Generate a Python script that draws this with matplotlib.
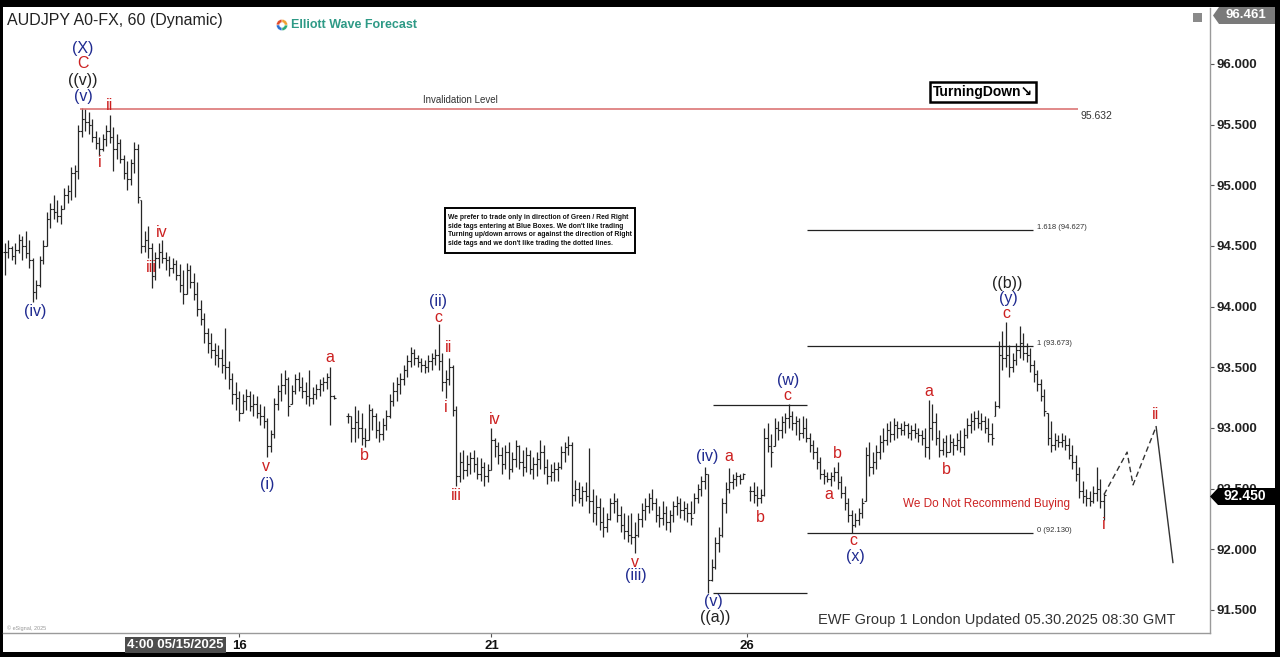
import numpy as np
import matplotlib
matplotlib.use('Agg')
import matplotlib.pyplot as plt
from matplotlib.patches import Rectangle, Polygon

plt.rcParams['font.family'] = ['Liberation Sans', 'DejaVu Sans']
nan = np.nan

# ---------------- data (hourly OHLC bars, index = bar number) ----------------
highs = [
    94.52, 94.55, 94.50, 94.52, 94.60, 94.58, 94.62, 94.55, 94.40, 94.22,
    94.42, 94.55, 94.78, 94.85, 94.92, 94.88, 94.84, 94.98, 95.00, 95.15,
    95.17, 95.50, 95.64, 95.63, 95.60, 95.55, 95.45, 95.40, 95.42, 95.50,
    95.58, 95.48, 95.42, 95.38, 95.25, 95.20, 95.22, 95.36, 95.34, 94.88,
    94.62, 94.66, 94.52, 94.45, 94.52, 94.55, 94.45, 94.42, 94.40, 94.38,
    94.35, 94.30, 94.36, 94.34, 94.28, 94.20, 94.05, 93.95, 93.82, 93.78,
    93.70, 93.68, 93.65, 93.82, 93.55, 93.45, 93.38, 93.30, 93.28, 93.32,
    93.30, 93.28, 93.26, 93.20, 93.18, 93.08, 92.98, 93.25, 93.35, 93.45,
    93.48, 93.42, 93.35, 93.44, 93.46, 93.42, 93.38, 93.48, 93.34, 93.36,
    93.40, 93.42, 93.45, 93.50, 93.27, nan, nan, nan, 93.12, 93.10,
    93.18, 93.15, 93.12, 93.00, 93.20, 93.16, 93.12, 93.06, 93.08, 93.15,
    93.28, 93.38, 93.42, 93.45, 93.52, 93.60, 93.67, 93.65, 93.60, 93.58,
    93.56, 93.60, 93.62, 93.65, 93.86, 93.62, 93.48, 93.58, 93.52, 93.18,
    92.80, 92.82, 92.78, 92.80, 92.82, 92.76, 92.75, 92.72, 92.70, 93.00,
    92.92, 92.88, 92.84, 92.86, 92.88, 92.80, 92.90, 92.86, 92.82, 92.84,
    92.82, 92.76, 92.80, 92.90, 92.86, 92.74, 92.70, 92.72, 92.72, 92.85,
    92.88, 92.93, 92.88, 92.57, 92.55, 92.52, 92.55, 92.83, 92.50, 92.45,
    92.42, 92.35, 92.30, 92.42, 92.46, 92.42, 92.36, 92.30, 92.28, 92.30,
    92.22, 92.30, 92.38, 92.42, 92.46, 92.50, 92.42, 92.36, 92.40, 92.36,
    92.32, 92.40, 92.44, 92.42, 92.40, 92.38, 92.40, 92.46, 92.54, 92.60,
    92.68, 92.62, 91.92, 92.10, 92.18, 92.42, 92.55, 92.67, 92.62, 92.64,
    92.62, 92.63, nan, 92.52, 92.55, 92.52, 92.50, 93.00, 93.04, 92.95,
    93.08, 93.06, 93.10, 93.12, 93.20, 93.14, 93.10, 93.08, 93.10, 93.08,
    92.96, 92.90, 92.84, 92.76, 92.66, 92.64, 92.64, 92.68, 92.72, 92.60,
    92.52, 92.42, 92.32, 92.30, 92.34, 92.42, 92.84, 92.88, 92.80, 92.86,
    92.94, 93.00, 93.04, 93.06, 93.08, 93.06, 93.04, 93.06, 93.04, 93.02,
    93.04, 93.00, 92.98, 93.00, 93.23, 93.20, 93.12, 92.98, 92.92, 92.94,
    92.95, 92.92, 92.96, 92.98, 93.00, 93.08, 93.12, 93.14, 93.15, 93.12,
    93.10, 93.08, 93.04, 93.22, 93.72, 93.80, 93.87, 93.68, 93.62, 93.70,
    93.84, 93.78, 93.70, 93.66, 93.56, 93.48, 93.40, 93.32, 93.12, 93.06,
    92.96, 92.94, 92.96, 92.94, 92.92, 92.86, 92.78, 92.68, 92.56, 92.50,
    92.48, 92.52, 92.68, 92.58, 92.46,
]
lows = [
    94.26, 94.40, 94.38, 94.35, 94.44, 94.38, 94.40, 94.32, 94.04, 94.06,
    94.16, 94.35, 94.50, 94.65, 94.72, 94.70, 94.68, 94.80, 94.85, 94.88,
    94.90, 95.05, 95.40, 95.45, 95.42, 95.36, 95.30, 95.24, 95.28, 95.32,
    95.35, 95.12, 95.22, 95.18, 95.05, 94.96, 95.00, 95.10, 94.85, 94.44,
    94.45, 94.40, 94.15, 94.22, 94.32, 94.36, 94.30, 94.25, 94.28, 94.22,
    94.12, 94.02, 94.10, 94.15, 94.05, 93.92, 93.85, 93.70, 93.62, 93.58,
    93.52, 93.50, 93.45, 93.40, 93.32, 93.20, 93.15, 93.06, 93.12, 93.15,
    93.14, 93.10, 93.08, 93.02, 93.00, 92.76, 92.80, 92.92, 93.15, 93.22,
    93.28, 93.10, 93.20, 93.28, 93.30, 93.25, 93.20, 93.18, 93.20, 93.24,
    93.26, 93.30, 93.32, 93.02, 93.24, nan, nan, nan, 93.04, 92.88,
    92.88, 92.92, 92.86, 92.84, 92.90, 92.98, 92.92, 92.88, 92.90, 92.98,
    93.08, 93.18, 93.22, 93.28, 93.35, 93.42, 93.50, 93.52, 93.50, 93.46,
    93.45, 93.46, 93.48, 93.52, 93.48, 93.30, 93.25, 93.35, 93.10, 92.52,
    92.55, 92.58, 92.60, 92.62, 92.64, 92.58, 92.56, 92.52, 92.55, 92.65,
    92.76, 92.70, 92.62, 92.66, 92.58, 92.64, 92.68, 92.66, 92.60, 92.64,
    92.62, 92.58, 92.60, 92.66, 92.62, 92.54, 92.56, 92.56, 92.56, 92.66,
    92.72, 92.78, 92.36, 92.40, 92.38, 92.36, 92.40, 92.30, 92.22, 92.20,
    92.16, 92.10, 92.14, 92.24, 92.30, 92.22, 92.14, 92.08, 92.06, 92.04,
    91.97, 92.10, 92.18, 92.24, 92.30, 92.32, 92.22, 92.18, 92.20, 92.16,
    92.14, 92.22, 92.28, 92.26, 92.24, 92.22, 92.20, 92.30, 92.38, 92.44,
    92.50, 91.64, 91.74, 91.84, 91.98, 92.10, 92.30, 92.46, 92.50, 92.52,
    92.54, 92.58, nan, 92.40, 92.38, 92.36, 92.38, 92.44, 92.80, 92.68,
    92.85, 92.90, 92.92, 92.96, 93.00, 92.98, 92.94, 92.90, 92.92, 92.88,
    92.80, 92.74, 92.66, 92.58, 92.54, 92.55, 92.52, 92.56, 92.50, 92.42,
    92.32, 92.22, 92.13, 92.18, 92.20, 92.26, 92.40, 92.60, 92.62, 92.66,
    92.74, 92.80, 92.86, 92.88, 92.90, 92.92, 92.94, 92.94, 92.92, 92.90,
    92.92, 92.88, 92.86, 92.76, 92.74, 92.90, 92.86, 92.76, 92.78, 92.76,
    92.80, 92.78, 92.82, 92.80, 92.78, 92.92, 92.96, 92.98, 93.00, 92.98,
    92.96, 92.88, 92.86, 93.10, 93.16, 93.48, 93.50, 93.42, 93.46, 93.52,
    93.58, 93.56, 93.54, 93.46, 93.38, 93.30, 93.22, 93.10, 92.86, 92.80,
    92.82, 92.84, 92.84, 92.82, 92.74, 92.66, 92.56, 92.42, 92.38, 92.36,
    92.36, 92.38, 92.40, 92.34, 92.24,
]
closes = [
    94.45, 94.48, 94.42, 94.47, 94.55, 94.50, 94.44, 94.38, 94.12, 94.18,
    94.38, 94.50, 94.72, 94.80, 94.78, 94.75, 94.80, 94.92, 94.95, 95.10,
    95.12, 95.45, 95.55, 95.52, 95.50, 95.40, 95.35, 95.30, 95.38, 95.45,
    95.40, 95.30, 95.35, 95.22, 95.10, 95.05, 95.18, 95.30, 94.90, 94.50,
    94.55, 94.48, 94.25, 94.40, 94.45, 94.40, 94.38, 94.32, 94.35, 94.26,
    94.18, 94.10, 94.30, 94.20, 94.10, 93.98, 93.90, 93.78, 93.70, 93.64,
    93.60, 93.58, 93.52, 93.50, 93.40, 93.28, 93.25, 93.12, 93.22, 93.26,
    93.18, 93.20, 93.12, 93.10, 93.06, 92.85, 92.95, 93.20, 93.30, 93.35,
    93.40, 93.18, 93.30, 93.40, 93.34, 93.30, 93.26, 93.25, 93.28, 93.32,
    93.36, 93.38, 93.42, 93.26, 93.25, nan, nan, nan, 93.10, 93.00,
    93.05, 93.00, 92.92, 92.90, 93.15, 93.10, 92.98, 92.95, 93.02, 93.10,
    93.22, 93.30, 93.36, 93.40, 93.48, 93.55, 93.62, 93.58, 93.54, 93.52,
    93.50, 93.55, 93.58, 93.60, 93.55, 93.38, 93.40, 93.50, 93.15, 92.60,
    92.72, 92.65, 92.70, 92.75, 92.70, 92.62, 92.68, 92.60, 92.65, 92.90,
    92.85, 92.78, 92.70, 92.80, 92.66, 92.74, 92.85, 92.72, 92.68, 92.78,
    92.66, 92.70, 92.74, 92.80, 92.68, 92.60, 92.64, 92.66, 92.68, 92.80,
    92.84, 92.86, 92.45, 92.50, 92.42, 92.48, 92.44, 92.40, 92.30, 92.35,
    92.22, 92.18, 92.25, 92.38, 92.40, 92.28, 92.20, 92.15, 92.12, 92.10,
    92.12, 92.25, 92.32, 92.36, 92.42, 92.38, 92.28, 92.26, 92.30, 92.22,
    92.28, 92.36, 92.38, 92.32, 92.34, 92.30, 92.26, 92.42, 92.50, 92.56,
    92.62, 91.75, 91.85, 92.05, 92.12, 92.38, 92.50, 92.55, 92.58, 92.60,
    92.58, 92.62, nan, 92.48, 92.45, 92.42, 92.45, 92.92, 92.85, 92.80,
    93.00, 92.98, 93.05, 93.08, 93.10, 93.04, 93.06, 92.96, 93.00, 92.92,
    92.86, 92.80, 92.72, 92.62, 92.60, 92.58, 92.60, 92.64, 92.55, 92.46,
    92.38, 92.28, 92.20, 92.24, 92.30, 92.38, 92.78, 92.68, 92.72, 92.80,
    92.88, 92.90, 92.98, 92.95, 93.02, 93.00, 92.98, 93.02, 92.96, 92.98,
    92.96, 92.94, 92.92, 92.84, 93.00, 93.05, 92.92, 92.82, 92.88, 92.80,
    92.88, 92.86, 92.90, 92.84, 92.94, 93.02, 93.06, 93.08, 93.04, 93.06,
    93.00, 92.95, 92.92, 93.18, 93.60, 93.58, 93.60, 93.50, 93.56, 93.64,
    93.70, 93.62, 93.60, 93.52, 93.44, 93.36, 93.26, 93.14, 92.92, 92.86,
    92.90, 92.88, 92.90, 92.86, 92.78, 92.72, 92.62, 92.48, 92.44, 92.42,
    92.40, 92.46, 92.50, 92.40, 92.45,
]

day_tick_pos = [67, 139, 212]
day_tick_labels = ['16', '21', '26']
price_ticks = [91.5, 92.0, 92.5, 93.0, 93.5, 94.0, 94.5, 95.0, 95.5, 96.0]

invalidation = 95.632
fib_levels = [94.627, 93.673, 92.130]
fib_names = ['1.618 (94.627)', '1 (93.673)', '0 (92.130)']
wave_w_level = 93.19
wave_v_level = 91.64

proj_dash_x = [314, 320.6, 322.3, 328.9]
proj_dash_y = [92.45, 92.80, 92.53, 93.01]
proj_solid_x = [328.9, 333.7]
proj_solid_y = [93.01, 91.89]

BLUE = '#1f2a90'
RED = '#cc2020'
BLK = '#222222'
wave_labels = [
    (22.3, 96.13, '(X)', BLUE), (22.3, 96.00, 'C', RED), (22.3, 95.86, '((v))', BLK),
    (22.3, 95.73, '(v)', BLUE), (30.0, 95.66, 'ii', RED), (27.1, 95.19, 'i', RED),
    (8.6, 93.96, '(iv)', BLUE), (44.9, 94.61, 'iv', RED), (41.7, 94.32, 'iii', RED),
    (74.6, 92.68, 'v', RED), (74.9, 92.53, '(i)', BLUE), (92.9, 93.58, 'a', RED),
    (102.6, 92.77, 'b', RED), (123.7, 94.04, '(ii)', BLUE), (123.7, 93.91, 'c', RED),
    (126.6, 93.66, 'ii', RED), (126.0, 93.17, 'i', RED), (140.0, 93.07, 'iv', RED),
    (128.9, 92.44, 'iii', RED), (180.0, 91.89, 'v', RED), (180.3, 91.78, '(iii)', BLUE),
    (200.6, 92.76, '(iv)', BLUE), (206.9, 92.76, 'a', RED), (215.7, 92.26, 'b', RED),
    (202.3, 91.57, '(v)', BLUE), (202.9, 91.44, '((a))', BLK), (223.7, 93.39, '(w)', BLUE),
    (223.4, 93.27, 'c', RED), (237.7, 92.79, 'b', RED), (235.4, 92.45, 'a', RED),
    (242.3, 92.07, 'c', RED), (242.9, 91.94, '(x)', BLUE), (264.0, 93.30, 'a', RED),
    (268.9, 92.66, 'b', RED), (286.3, 94.19, '((b))', BLK), (286.6, 94.07, '(y)', BLUE),
    (286.0, 93.94, 'c', RED), (314.0, 92.20, 'i', RED), (328.6, 93.11, 'ii', RED),
]

# ---------------- figure ----------------
W, H = 1280, 657
fig = plt.figure(figsize=(12.8, 6.57), dpi=100)
fig.patch.set_facecolor('black')


def fx(px):
    return px / W


def fy(py):
    return 1 - py / H


fig.add_artist(Rectangle((fx(3), fy(652)), fx(1275) - fx(3), fy(7) - fy(652),
                         transform=fig.transFigure, facecolor='white',
                         edgecolor='none', zorder=-5))

ax = fig.add_axes([fx(3), fy(633), fx(1210) - fx(3), fy(8) - fy(633)])
ax.set_facecolor('white')

h = np.array(highs, dtype=float)
l = np.array(lows, dtype=float)
c = np.array(closes, dtype=float)
o = np.concatenate([[c[0]], c[:-1]])
o = np.where(np.isnan(o), c, o)
o = np.clip(o, l, h)
x = np.arange(len(h))
v = ~np.isnan(h)

barcol = '#262626'
ax.vlines(x[v], l[v], h[v], color=barcol, lw=0.9)
ax.hlines(o[v], x[v] - 0.45, x[v], color=barcol, lw=0.8)
ax.hlines(c[v], x[v], x[v] + 0.45, color=barcol, lw=0.8)

ax.set_xlim(-0.571, 344.29)
ax.set_ylim(91.309, 96.461)

# invalidation line
ax.hlines(invalidation, 21.4, 306.6, color='#d86a6a', lw=1.1)
ax.text(130, 95.665, 'Invalidation Level', fontsize=7, ha='center', va='bottom', color='#333')
ax.text(307.2, 95.571, '%.3f' % invalidation, fontsize=7.5, ha='left', va='center', color='#333')

# fib lines
ax.hlines(fib_levels, 229.1, 293.7, color='#222', lw=0.9)
for lev, nm in zip(fib_levels, fib_names):
    ax.text(294.8, lev + 0.025, nm, fontsize=5.5, ha='left', va='center', color='#333')
ax.hlines([wave_w_level, wave_v_level], 202.3, 229.1, color='#222', lw=0.9)

# projection
ax.plot(proj_dash_x, proj_dash_y, ls=(0, (4, 2.5)), color='#333', lw=1.0)
ax.plot(proj_solid_x, proj_solid_y, color='#333', lw=1.0)

# wave labels
for xi, yi, t, col in wave_labels:
    ax.text(xi, yi, t, color=col, fontsize=11.5, ha='center', va='center')

ax.text(280.3, 92.373, 'We Do Not Recommend Buying', color='#cc2222', fontsize=8.5,
        ha='center', va='center')

# axes styling
for s in ['left', 'top']:
    ax.spines[s].set_visible(False)
for s in ['right', 'bottom']:
    ax.spines[s].set_color('#9a9a9a')
    ax.spines[s].set_linewidth(1.0)
ax.yaxis.tick_right()
ax.set_yticks(price_ticks)
ax.set_yticklabels(['%.3f' % p for p in price_ticks])
ax.tick_params(axis='y', labelsize=9.5, length=3, pad=2, colors='#555', labelcolor='#222')
ax.set_xticks(day_tick_pos)
ax.set_xticklabels(day_tick_labels)
ax.tick_params(axis='x', labelsize=9.5, length=3, pad=2, colors='#555', labelcolor='#111')
for lb in ax.get_yticklabels() + ax.get_xticklabels():
    lb.set_fontweight('bold')

# header texts
fig.text(fx(7), fy(20), 'AUDJPY A0-FX, 60 (Dynamic)', fontsize=11.5, color='#222',
         ha='left', va='center')
lax = fig.add_axes([fx(275), fy(32), 14 / W, 14 / H])
lax.pie([1, 1, 1, 1], colors=['#e04b2a', '#2a6fd0', '#2aa876', '#f0a030'], startangle=90,
        wedgeprops=dict(width=0.55, edgecolor='white', linewidth=0.3))
lax.set_aspect('equal')
lax.axis('off')
fig.text(fx(291), fy(25), 'Elliott Wave Forecast', fontsize=9, fontweight='bold',
         color='#2e9a86', ha='left', va='center')

# Turning down box
fig.text(fx(983), fy(92), 'TurningDown\u2198', fontsize=10, fontweight='bold', color='black',
         ha='center', va='center',
         bbox=dict(boxstyle='square,pad=0.22', fc='white', ec='black', lw=1.8))

# info box
fig.add_artist(Rectangle((fx(445), fy(253)), fx(635) - fx(445), fy(208) - fy(253),
                         transform=fig.transFigure, facecolor='white', edgecolor='black',
                         lw=1.4, zorder=5))
info = ("We prefer to trade only in direction of Green / Red Right\n"
        "side tags entering at Blue Boxes. We don't like trading\n"
        "Turning up/down arrows or against the direction of Right\n"
        "side tags and we don't like trading the dotted lines.")
fig.text(fx(448), fy(230.5), info, fontsize=4.9, fontweight='bold', color='#111',
         ha='left', va='center', linespacing=1.3, zorder=6)

# bottom texts
fig.text(fx(997), fy(620), 'EWF Group 1 London Updated 05.30.2025 08:30 GMT', fontsize=10.5,
         color='#333', ha='center', va='center')
fig.text(fx(7), fy(628), '\u00a9 eSignal, 2025', fontsize=4, color='#999', ha='left', va='center')
fig.text(fx(175.5), fy(645), '4:00 05/15/2025', fontsize=9.5, fontweight='bold', color='white',
         ha='center', va='center',
         bbox=dict(boxstyle='square,pad=0.15', fc='#4d4d4d', ec='none'), zorder=6)

# price tags on right axis
fig.add_artist(Polygon([(fx(1213), fy(15.5)), (fx(1219), fy(7)), (fx(1275), fy(7)),
                        (fx(1275), fy(24)), (fx(1219), fy(24))], closed=True,
                       transform=fig.transFigure, facecolor='#7a7a7a', edgecolor='none', zorder=6))
fig.text(fx(1246), fy(15.5), '96.461', fontsize=9.5, fontweight='bold', color='white',
         ha='center', va='center', zorder=7)
fig.add_artist(Polygon([(fx(1210), fy(496.5)), (fx(1218), fy(488)), (fx(1275), fy(488)),
                        (fx(1275), fy(505)), (fx(1218), fy(505))], closed=True,
                       transform=fig.transFigure, facecolor='black', edgecolor='none', zorder=6))
fig.text(fx(1245), fy(496.5), '92.450', fontsize=10, fontweight='bold', color='white',
         ha='center', va='center', zorder=7)
fig.add_artist(Rectangle((fx(1193), fy(22)), 9 / W, 9 / H, transform=fig.transFigure,
                         facecolor='#8a8a8a', edgecolor='none', zorder=6))

fig.savefig('out.png', dpi=100, facecolor=fig.get_facecolor())
